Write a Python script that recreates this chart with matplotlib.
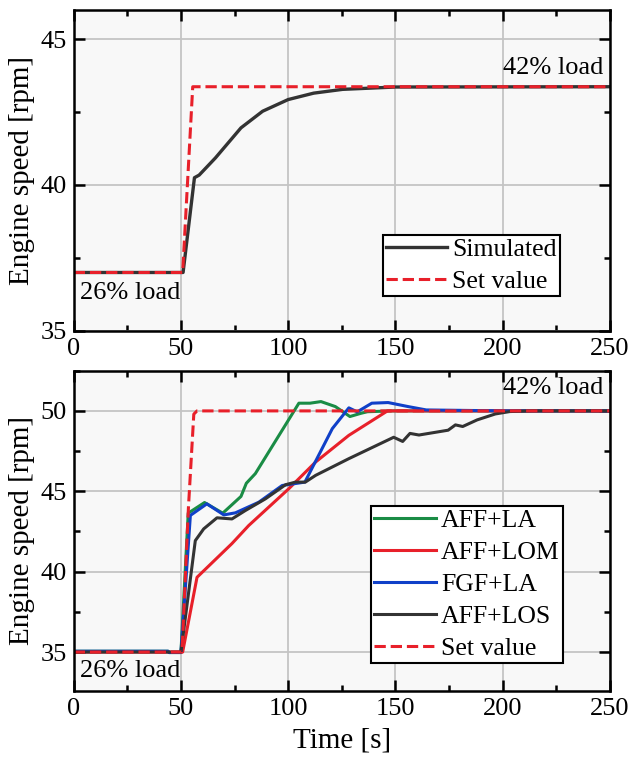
import matplotlib.pyplot as plt
from matplotlib.ticker import MultipleLocator

plt.rcParams['font.family'] = ['Liberation Serif', 'DejaVu Serif']
plt.rcParams['font.size'] = 19

# top panel: single step 26% -> 42% load
top_set_t = [0, 50.8, 55.5, 250]
top_set_v = [37.0, 37.0, 43.37, 43.37]
top_sim_t = [0, 51, 56.3, 58.5, 66.1, 78, 88.1, 100, 111.9, 125.4, 150, 250]
top_sim_v = [37.0, 37.0, 40.25, 40.34, 40.93, 41.96, 42.53, 42.93, 43.15, 43.28, 43.36, 43.37]

# bottom panel: controller comparison
set_t = [0, 50.5, 53.5, 56, 57.5, 250]
set_v = [35.0, 35.0, 44.0, 49.8, 50.0, 50.0]

la_t = [0, 44, 44.5, 50, 53.4, 61, 69.5, 78, 80.5, 84.7, 105, 110.2, 115.3, 122, 128.8, 133.9, 137, 149, 250]
la_v = [35.05, 35.05, 34.97, 34.97, 43.64, 44.3, 43.64, 44.68, 45.5, 46.1, 50.48, 50.48, 50.58, 50.27, 49.65, 49.85, 49.95, 50.0, 50.0]

lom_t = [0, 50.8, 57.5, 73.8, 81.6, 100.3, 112.8, 128.3, 146.3, 250]
lom_v = [35.0, 35.0, 39.65, 41.75, 42.87, 45.16, 46.82, 48.48, 50.0, 50.0]

fgf_t = [0, 44, 44.5, 50, 54.4, 62.1, 70, 75.4, 86.3, 97.2, 107.8, 120.6, 128.3, 132.2, 139, 146.6, 155.9, 164.4, 201.7, 250]
fgf_v = [35.05, 35.05, 34.97, 34.97, 43.5, 44.22, 43.53, 43.66, 44.32, 45.36, 45.57, 48.9, 50.19, 49.94, 50.48, 50.52, 50.27, 50.06, 50.0, 50.0]

los_t = [0, 50, 56.7, 60.6, 66.8, 73.8, 80, 89.4, 98.8, 103.4, 108, 112.8, 128.3, 149.2, 153.4, 156.8, 161, 174.6, 178, 181.4, 188.1, 196.6, 203.4, 213.6, 250]
los_v = [35.0, 35.0, 41.93, 42.66, 43.35, 43.28, 43.8, 44.53, 45.41, 45.57, 45.57, 45.99, 47.03, 48.36, 48.1, 48.6, 48.5, 48.8, 49.13, 49.03, 49.44, 49.81, 49.96, 50.0, 50.0]

RED = '#e8202a'
GREEN = '#1a8c45'
BLUE = '#1040c8'
BLACK = '#333333'

fig = plt.figure(figsize=(6.3, 7.72), dpi=100)
ax1 = fig.add_axes([0.117, 0.5715, 0.851, 0.4155])
ax2 = fig.add_axes([0.117, 0.1054, 0.851, 0.4144])


def style(ax):
    ax.set_facecolor('#f8f8f8')
    ax.grid(True, color='#c4c4c4', lw=1.3)
    ax.set_axisbelow(True)
    ax.set_xlim(0, 250)
    ax.xaxis.set_major_locator(MultipleLocator(50))
    ax.xaxis.set_minor_locator(MultipleLocator(25))
    ax.tick_params(which='both', direction='in', top=True, right=True, width=1.8)
    ax.tick_params(which='major', length=8, labelsize=19, pad=5)
    ax.tick_params(which='minor', length=4.5)
    for s in ax.spines.values():
        s.set_linewidth(1.8)
    ax.set_ylabel('Engine speed [rpm]', fontsize=21, labelpad=4)


style(ax1)
ax1.plot(top_sim_t, top_sim_v, color=BLACK, lw=2.4, label='Simulated')
ax1.plot(top_set_t, top_set_v, color=RED, lw=2.2, ls='--', label='Set value')
ax1.set_ylim(35, 46)
ax1.yaxis.set_major_locator(MultipleLocator(5))
ax1.yaxis.set_minor_locator(MultipleLocator(2.5))
ax1.text(247, 44.0, '42% load', ha='right', va='center', fontsize=19)
ax1.text(3, 36.3, '26% load', ha='left', va='center', fontsize=19)
leg1 = ax1.legend(loc='lower right', bbox_to_anchor=(0.907, 0.109), borderaxespad=0,
                  frameon=True, fancybox=False, framealpha=1, facecolor='white',
                  edgecolor='black', fontsize=18.5, handlelength=2.4, borderpad=0.12,
                  labelspacing=0.35, handletextpad=0.2)
leg1.get_frame().set_linewidth(1.5)

style(ax2)
ax2.plot(la_t, la_v, color=GREEN, lw=2.2, label='AFF+LA')
ax2.plot(lom_t, lom_v, color=RED, lw=2.2, label='AFF+LOM')
ax2.plot(fgf_t, fgf_v, color=BLUE, lw=2.2, label='FGF+LA')
ax2.plot(los_t, los_v, color=BLACK, lw=2.2, label='AFF+LOS')
ax2.plot(set_t, set_v, color=RED, lw=2.2, ls='--', label='Set value')
ax2.set_ylim(32.6, 52.5)
ax2.yaxis.set_major_locator(MultipleLocator(5))
ax2.yaxis.set_minor_locator(MultipleLocator(2.5))
ax2.text(247, 51.4, '42% load', ha='right', va='center', fontsize=19)
ax2.text(3, 33.8, '26% load', ha='left', va='center', fontsize=19)
leg2 = ax2.legend(loc='lower right', bbox_to_anchor=(0.912, 0.0875), borderaxespad=0,
                  frameon=True, fancybox=False, framealpha=1, facecolor='white',
                  edgecolor='black', fontsize=18.5, handlelength=2.4, borderpad=0.12,
                  labelspacing=0.35, handletextpad=0.2)
leg2.get_frame().set_linewidth(1.5)
ax2.set_xlabel('Time [s]', fontsize=21, labelpad=6)

fig.savefig('out.png', dpi=100)
